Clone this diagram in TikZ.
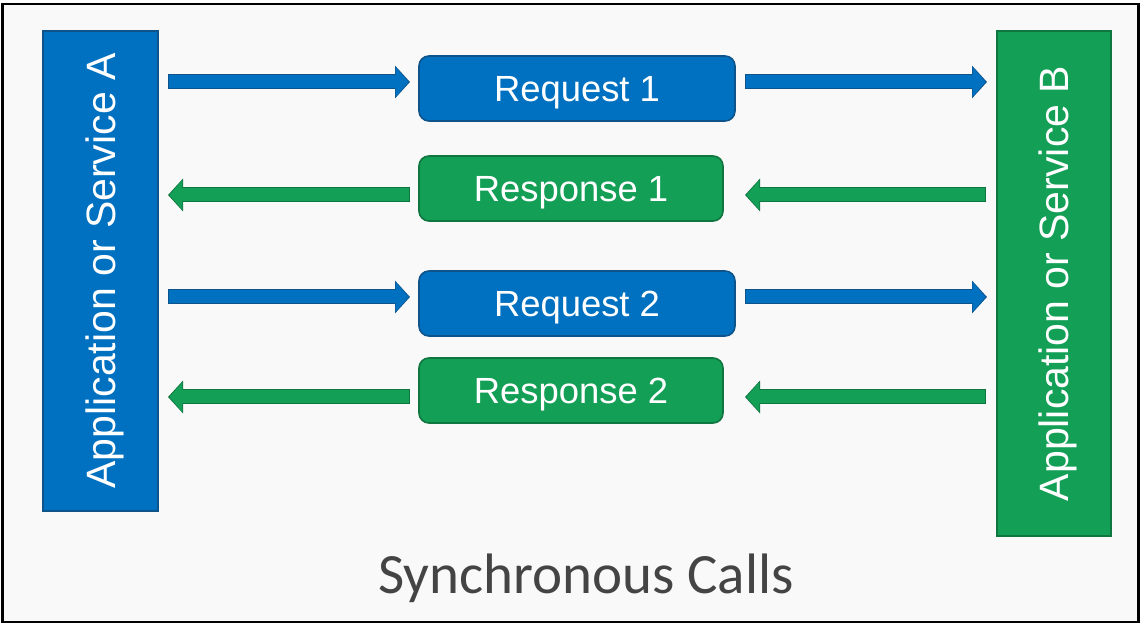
\documentclass[tikz,border=0pt]{standalone}
\usepackage{fontspec}
\setmainfont{Liberation Sans}
\newfontfamily\titlefont{Carlito}
\usetikzlibrary{arrows.meta}

\definecolor{svcblue}{RGB}{0,112,192}
\definecolor{svcblueD}{RGB}{14,84,138}
\definecolor{svcgreen}{RGB}{20,159,86}
\definecolor{svcgreenD}{RGB}{16,118,64}
\definecolor{panel}{RGB}{249,249,249}
\definecolor{titlegray}{RGB}{68,68,68}

\tikzset{
  app/.style={draw=#1D, fill=#1, line width=0.8pt, text=white, rotate=90,
    minimum height=57.5pt, font=\fontsize{20.5}{24}\selectfont,
    text height=14.7pt, text depth=0pt},
  msg/.style={draw=#1D, fill=#1, line width=0.8pt, rounded corners=5pt,
    text=white, minimum height=32.5pt, font=\fontsize{18.2}{22}\selectfont,
    text height=13pt, text depth=0pt},
  flow/.style={draw=#1, line width=6.5pt, shorten >=0.7pt, shorten <=0.5pt,
    -{Triangle[length=6.5pt 0,width=14.5pt 0]},
    preaction={draw=#1D, line width=7.5pt, shorten >=0pt, shorten <=0pt,
      -{Triangle[length=7.5pt 0,width=16pt 0]}}}
}

\begin{document}
\begin{tikzpicture}[x=0.5pt,y=-0.5pt]
\fill[white] (0,0) rectangle (1141,624);
\draw[fill=panel, line width=1.3pt] (2.5,4) rectangle (1138.5,622);

% the two services
\node[app=svcblue, minimum width=240pt] (appA) at (100.5,271) {Application or Service A};
\node[app=svcgreen, minimum width=252.5pt, minimum height=57pt] (appB) at (1054,283.5) {Application or Service B};

% messages
\node[msg=svcblue, minimum width=158pt] (req1) at (577,88.5) {Request 1};
\node[msg=svcgreen, minimum width=152pt] (res1) at (571,188.5) {Response 1};
\node[msg=svcblue, minimum width=158pt] (req2) at (577,303.5) {Request 2};
\node[msg=svcgreen, minimum width=152pt] (res2) at (571,390.5) {Response 2};

% arrows, one request and one response per row
\foreach \i/\yq/\ys in {1/82/195,2/297/397}{
  \coordinate (qa\i) at (168,\yq); \coordinate (qb\i) at (410,\yq);
  \coordinate (qc\i) at (745,\yq); \coordinate (qd\i) at (987,\yq);
  \coordinate (sa\i) at (168,\ys); \coordinate (sb\i) at (410,\ys);
  \coordinate (sc\i) at (745,\ys); \coordinate (sd\i) at (986,\ys);
  \draw[flow=svcblue] (qa\i) -- (qb\i);
  \draw[flow=svcblue] (qc\i) -- (qd\i);
  \draw[flow=svcgreen] (sd\i) -- (sc\i);
  \draw[flow=svcgreen] (sb\i) -- (sa\i);
}

\node[anchor=base, font=\titlefont\fontsize{28.5}{34}\selectfont, text=titlegray] (title) at (586,594) {Synchronous Calls};
\end{tikzpicture}
\end{document}
